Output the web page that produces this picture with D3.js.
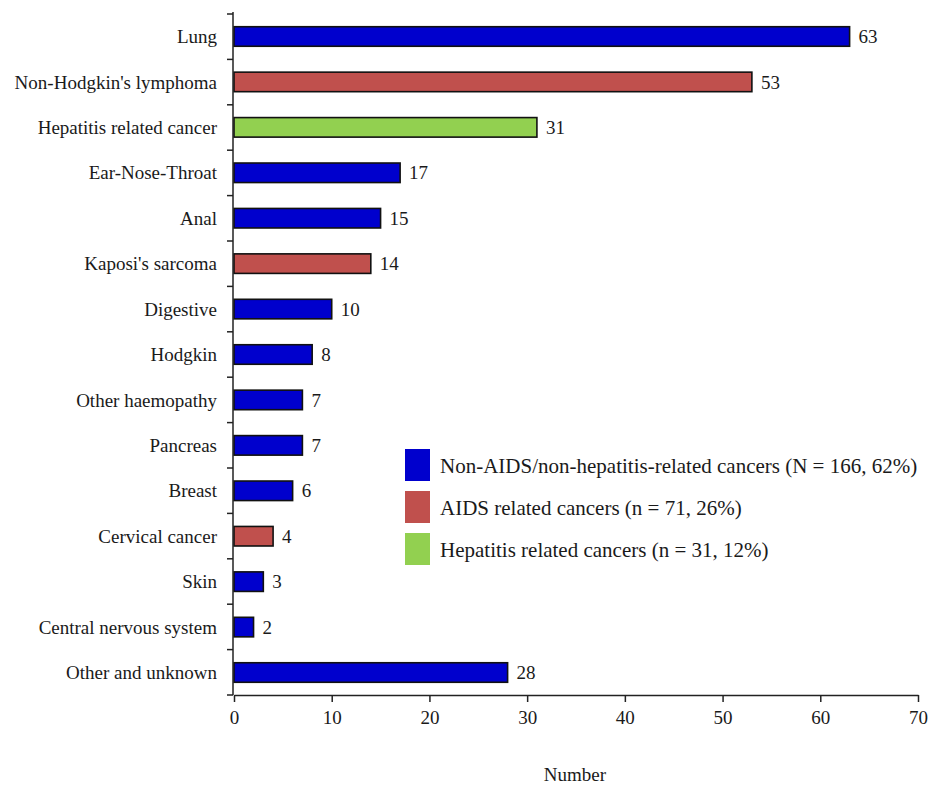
<!DOCTYPE html>
<html>
<head>
<meta charset="utf-8">
<script src="https://cdn.jsdelivr.net/npm/d3@7"></script>
<style>
  html, body { margin: 0; padding: 0; background: #fff; }
  svg { display: block; }
  text { font-family: "Liberation Serif", "DejaVu Serif", serif; fill: #1a1a1a; }
</style>
</head>
<body>
<svg id="chart" width="930" height="789"></svg>
<script>
// Cancer types, counts and group of each
const categories = ["Lung", "Non-Hodgkin's lymphoma", "Hepatitis related cancer", "Ear-Nose-Throat",
  "Anal", "Kaposi's sarcoma", "Digestive", "Hodgkin", "Other haemopathy", "Pancreas", "Breast",
  "Cervical cancer", "Skin", "Central nervous system", "Other and unknown"];
const counts = [63, 53, 31, 17, 15, 14, 10, 8, 7, 7, 6, 4, 3, 2, 28];
const groups = ["non", "aids", "hep", "non", "non", "aids", "non", "non", "non", "non", "non",
  "aids", "non", "non", "non"];
const groupKeys = ["non", "aids", "hep"];
const groupLabels = ["Non-AIDS/non-hepatitis-related cancers (N = 166, 62%)",
  "AIDS related cancers (n = 71, 26%)",
  "Hepatitis related cancers (n = 31, 12%)"];
const groupColors = ["#0000cd", "#c0504d", "#92d050"];
const xTicks = [0, 10, 20, 30, 40, 50, 60, 70];
const xTitle = "Number";

const svg = d3.select("#chart");
const margin = { left: 234, right: 12, top: 14, bottom: 94 };
const W = 930, H = 789;

const x = d3.scaleLinear().domain([0, 70]).range([margin.left, W - margin.right]);
const y = d3.scaleBand().domain(categories).range([margin.top, H - margin.bottom])
  .paddingInner(0.57).paddingOuter(0.28);
const color = d3.scaleOrdinal().domain(groupKeys).range(groupColors);

const data = categories.map((c, i) => ({ name: c, value: counts[i], group: groups[i] }));

// bars
svg.append("g").selectAll("rect").data(data).join("rect")
  .attr("x", x(0))
  .attr("y", d => y(d.name))
  .attr("width", d => x(d.value) - x(0))
  .attr("height", y.bandwidth())
  .attr("fill", d => color(d.group))
  .attr("stroke", "#111")
  .attr("stroke-width", 1.6);

// value labels
svg.append("g").selectAll("text").data(data).join("text")
  .attr("x", d => x(d.value) + 9)
  .attr("y", d => y(d.name) + y.bandwidth() / 2)
  .attr("dy", "0.35em")
  .attr("font-size", 19)
  .text(d => d.value);

// category axis: ticks between bands
const yAxisG = svg.append("g");
yAxisG.append("line")
  .attr("x1", x(0) - 1).attr("x2", x(0) - 1)
  .attr("y1", margin.top - 2).attr("y2", H - margin.bottom)
  .attr("stroke", "#222").attr("stroke-width", 1.5);
const bounds = d3.range(categories.length + 1).map(i => margin.top + (H - margin.bottom - margin.top) * i / categories.length);
yAxisG.selectAll("line.tk").data(bounds).join("line").attr("class", "tk")
  .attr("x1", x(0) - 7).attr("x2", x(0) - 1)
  .attr("y1", d => d).attr("y2", d => d)
  .attr("stroke", "#222").attr("stroke-width", 1.5);
yAxisG.selectAll("text").data(categories).join("text")
  .attr("x", x(0) - 17)
  .attr("y", d => y(d) + y.bandwidth() / 2)
  .attr("dy", "0.35em")
  .attr("text-anchor", "end")
  .attr("font-size", 19)
  .text(d => d);

// value axis
const xAxis = d3.axisBottom(x).tickValues(xTicks).tickSize(7).tickSizeOuter(0).tickPadding(9);
const xg = svg.append("g").attr("transform", `translate(0,${H - margin.bottom})`).call(xAxis);
xg.select(".domain").attr("stroke", "#222").attr("stroke-width", 1.5);
xg.selectAll(".tick line").attr("stroke", "#222").attr("stroke-width", 1.5);
xg.selectAll(".tick text").attr("font-size", 19).attr("font-family", "Liberation Serif, serif").attr("fill", "#1a1a1a");

svg.append("text")
  .attr("x", 575).attr("y", 781)
  .attr("text-anchor", "middle")
  .attr("font-size", 19)
  .text(xTitle);

// legend
const lg = svg.append("g").attr("transform", "translate(405,449)");
groupKeys.forEach((k, i) => {
  const row = lg.append("g").attr("transform", `translate(0,${i * 42})`);
  row.append("rect").attr("width", 25).attr("height", 32).attr("fill", groupColors[i]);
  row.append("text").attr("x", 35).attr("y", 17).attr("dy", "0.35em")
    .attr("font-size", 21).text(groupLabels[i]);
});
</script>
</body>
</html>
